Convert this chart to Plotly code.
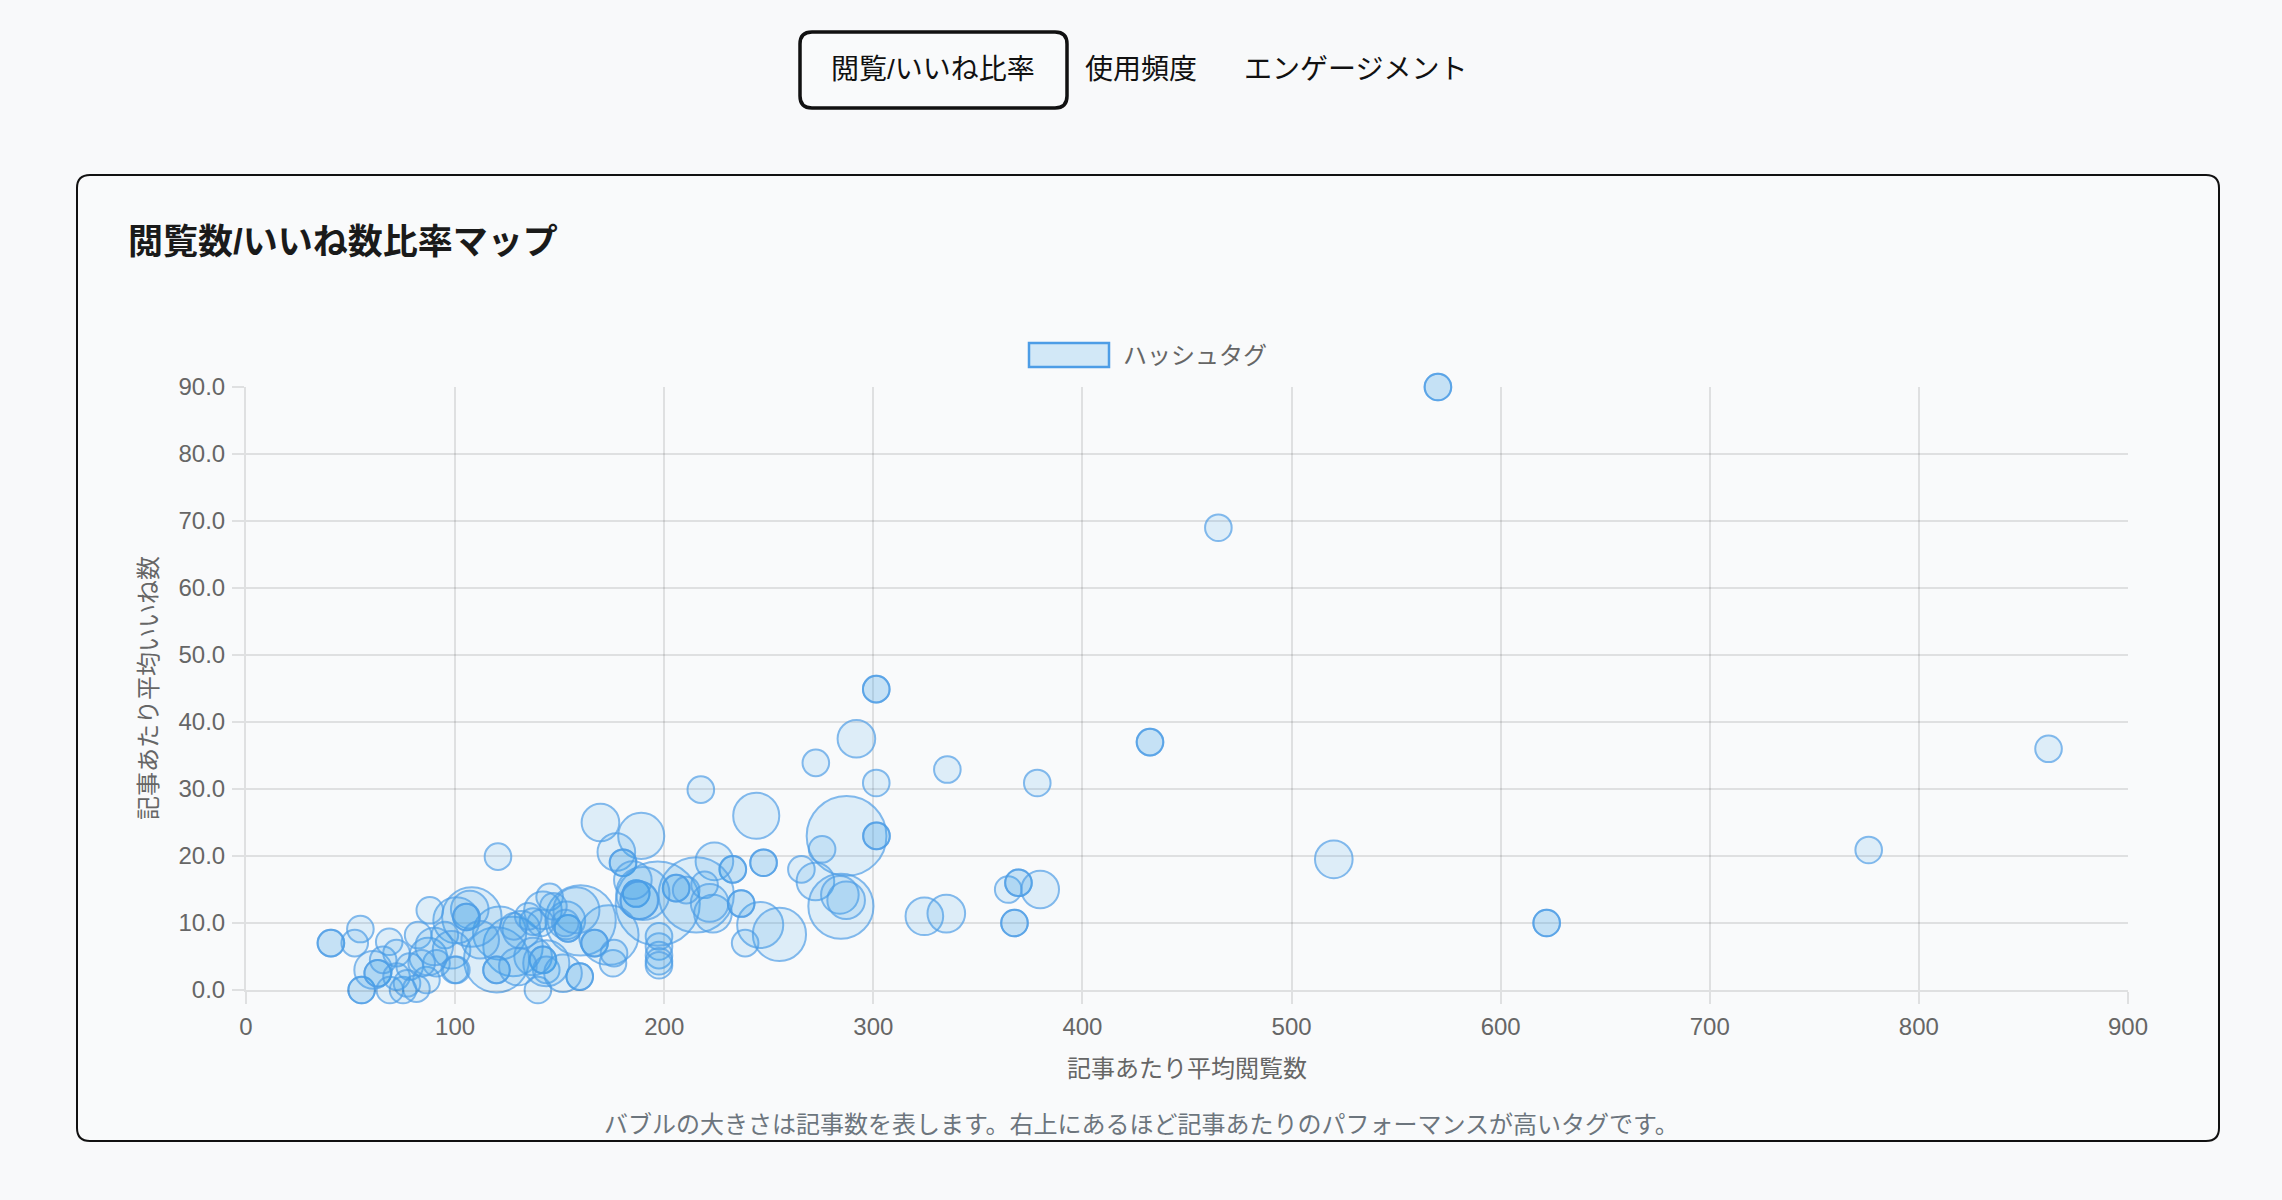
import plotly.graph_objects as go

# 記事あたり平均閲覧数 / 平均いいね数 / 記事数 (one entry per hashtag)
views = [
    570, 570, 465, 301.4, 301.4, 291.9, 432.3, 432.3, 862, 272.5,
    335.4, 301.4, 378.4, 217.5, 244, 169.5, 189, 287.2, 301.5, 301.5,
    776, 520.2, 622, 622, 275.5, 120.5, 177.1, 180.3, 180.3, 247.5,
    247.5, 265.6, 232.8, 232.8, 224, 272.3, 284.5, 284, 287, 324.4,
    334.9, 364.5, 369.4, 369.4, 379.8, 367.5, 367.5, 245.9, 255.1, 238.7,
    236.8, 236.8, 197.5, 197.5, 197.5, 197.5, 197.5, 196.9, 215.3, 205.7,
    205.7, 210.5, 219.3, 223.3, 221.7, 186.6, 186.6, 189.8, 188, 185,
    173.5, 160, 127.7, 121.3, 119.8, 108, 107, 100.6, 105.4, 105.4,
    40.6, 40.6, 54.7, 52.0, 55.3, 55.3, 68.5, 60.8, 63, 63,
    65.6, 72, 68.8, 75.1, 72, 78.3, 81.5, 77, 86.3, 82.3,
    87.1, 95.1, 87.9, 98.3, 99.8, 91.1, 100.6, 119.8, 119.8, 139.6,
    145.2, 142, 137.3, 131.7, 128, 137.3, 142, 142, 143.6, 154,
    154, 153.2, 158, 166.7, 166.7, 175.5, 159.6, 159.6, 151.6, 143.6,
    188.2, 141, 147, 135, 152.7, 90, 84, 112, 130, 176,
]
likes = [
    90, 90, 69, 44.9, 44.9, 37.5, 37.0, 37.0, 36, 33.9,
    32.9, 30.9, 30.9, 29.9, 26.0, 25.0, 23.0, 23.0, 23.0, 23.0,
    20.9, 19.5, 10, 10, 21.0, 19.9, 20.6, 19.0, 19.0, 19.0,
    19.0, 18.0, 18.0, 18.0, 19.2, 16.2, 12.5, 14.2, 13.4, 11.0,
    11.4, 15.0, 16.0, 16.0, 15.0, 10.0, 10.0, 9.7, 8.3, 7.0,
    12.9, 12.9, 8.0, 6.5, 5.2, 4.3, 3.7, 12.9, 14.2, 15.2,
    15.2, 14.9, 15.7, 11.4, 13.0, 14.4, 14.4, 14.4, 13.4, 16.4,
    8.2, 10.4, 6.5, 8.5, 4.5, 10.9, 12.0, 10.4, 10.9, 10.9,
    7.0, 7.0, 9.1, 7.0, 0, 0, 7.2, 3.0, 2.5, 2.5,
    4.5, 5.5, 0, 0, 2.0, 3.5, 0.2, 1.0, 1.5, 8.2,
    5.0, 8.2, 11.9, 6.0, 3.0, 4.0, 3.0, 3.0, 3.0, 0,
    13.9, 11.9, 10.2, 9.0, 9.5, 5.0, 4.5, 4.5, 3.0, 9.2,
    9.2, 10.4, 11.9, 7.0, 7.0, 4.0, 2.0, 2.0, 2.5, 4.0,
    13.4, 10.0, 12.5, 11.0, 10.0, 6.5, 4.0, 7.5, 3.5, 5.5,
]
articles = [
    1, 1, 1, 1, 1, 2, 1, 1, 1, 1,
    1, 1, 1, 1, 3, 2, 3, 9, 1, 1,
    1, 2, 1, 1, 1, 1, 2, 1, 1, 1,
    1, 1, 1, 1, 2, 2, 6, 2, 2, 2,
    2, 1, 1, 1, 2, 1, 1, 3, 4, 1,
    1, 1, 1, 1, 1, 1, 1, 10, 8, 1,
    1, 1, 1, 2, 2, 1, 1, 4, 2, 2,
    5, 7, 5, 4, 6, 5, 2, 3, 1, 1,
    1, 1, 1, 1, 1, 1, 1, 2, 1, 1,
    1, 1, 1, 1, 1, 1, 1, 1, 1, 1,
    2, 1, 1, 2, 1, 1, 1, 1, 1, 1,
    1, 2, 1, 2, 1, 2, 1, 1, 1, 1,
    1, 2, 3, 1, 1, 1, 1, 1, 2, 3,
    2, 1, 1, 1, 1, 2, 1, 2, 2, 1,
]

x_ticks = [0, 100, 200, 300, 400, 500, 600, 700, 800, 900]
y_ticks = [0, 10, 20, 30, 40, 50, 60, 70, 80, 90]

FONT = "Liberation Sans, Noto Sans CJK JP, sans-serif"
BLUE_FILL = "rgba(54,162,235,0.2)"
BLUE_LINE = "rgb(77,157,230)"

# plot area in page pixels
L, R, T, B = 246, 2128, 387, 990
W, H = 2282, 1200


def px(x, y):
    return (x - L) / (R - L), (B - y) / (B - T)


def rounded_rect(x0, y0, x1, y1, r):
    pts = []
    a, b = px(x0 + r, y0)
    pts.append(f"M{a},{b}")
    for (lx, ly), (cx, cy), (ex, ey) in [
        ((x1 - r, y0), (x1, y0), (x1, y0 + r)),
        ((x1, y1 - r), (x1, y1), (x1 - r, y1)),
        ((x0 + r, y1), (x0, y1), (x0, y1 - r)),
        ((x0, y0 + r), (x0, y0), (x0 + r, y0)),
    ]:
        p, q = px(lx, ly)
        c1, c2 = px(cx, cy)
        e1, e2 = px(ex, ey)
        pts.append(f"L{p},{q} Q{c1},{c2} {e1},{e2}")
    return " ".join(pts) + " Z"


fig = go.Figure(go.Scatter(
    x=views, y=likes, mode="markers", cliponaxis=False,
    marker=dict(size=articles, sizemode="area", sizeref=2 / 26.6 ** 2,
                color=BLUE_FILL, line=dict(color=BLUE_LINE, width=2)),
    hoverinfo="x+y",
))

shapes = [
    dict(type="path", path=rounded_rect(77, 175, 2219, 1141, 13), xref="paper", yref="paper",
         line=dict(color="#111", width=2), fillcolor="#f9fafb", layer="below"),
    dict(type="path", path=rounded_rect(800, 32, 1067, 108, 12), xref="paper", yref="paper",
         line=dict(color="#111", width=3.5), fillcolor="#f9fafb", layer="below"),
]
lx0, ly0 = px(1029, 343)
lx1, ly1 = px(1109, 367)
shapes.append(dict(type="rect", x0=lx0, y0=ly0, x1=lx1, y1=ly1, xref="paper", yref="paper",
                   line=dict(color=BLUE_LINE, width=2.5), fillcolor=BLUE_FILL))


def note(text, x, y, size, color, xanchor="center", angle=0):
    p, q = px(x, y)
    return dict(text=text, x=p, y=q, xref="paper", yref="paper", showarrow=False,
                xanchor=xanchor, yanchor="middle", textangle=angle,
                font=dict(family=FONT, size=size, color=color))


annotations = [
    note("閲覧/いいね比率", 933, 69, 28, "#111"),
    note("使用頻度", 1141, 69, 28, "#111"),
    note("エンゲージメント", 1355, 69, 28, "#111"),
    note("<b>閲覧数/いいね数比率マップ</b>", 126, 241, 35, "#1a1a1a", xanchor="left"),
    note("ハッシュタグ", 1121, 355, 24, "#666", xanchor="left"),
    note("記事あたり平均閲覧数", 1187, 1068, 24, "#666"),
    note("記事あたり平均いいね数", 148, 688, 24, "#666", angle=-90),
    note("バブルの大きさは記事数を表します。右上にあるほど記事あたりのパフォーマンスが高いタグです。",
         1141, 1124, 24, "#6c757d"),
]

grid = "rgba(0,0,0,0.1)"
axis_style = dict(showgrid=True, gridcolor=grid, gridwidth=2, zeroline=False,
                  showline=True, linecolor=grid, linewidth=2,
                  ticks="outside", ticklen=12, tickwidth=2, tickcolor=grid,
                  tickfont=dict(family=FONT, size=24, color="#666"))
fig.update_layout(
    width=W, height=H, margin=dict(l=L, r=W - R, t=T, b=H - B),
    paper_bgcolor="#f8f9fa", plot_bgcolor="rgba(0,0,0,0)",
    showlegend=False, shapes=shapes, annotations=annotations,
    font=dict(family=FONT, size=24, color="#666"),
    xaxis=dict(range=[0, 900], tickvals=x_ticks, ticklabelstandoff=2, **axis_style),
    yaxis=dict(range=[0, 90], tickvals=y_ticks, tickformat=".1f", ticklabelstandoff=2, **axis_style),
)

fig.write_html("out.html", config={"displayModeBar": False},
               post_script="document.body.style.margin='0';document.body.style.overflow='hidden';")
